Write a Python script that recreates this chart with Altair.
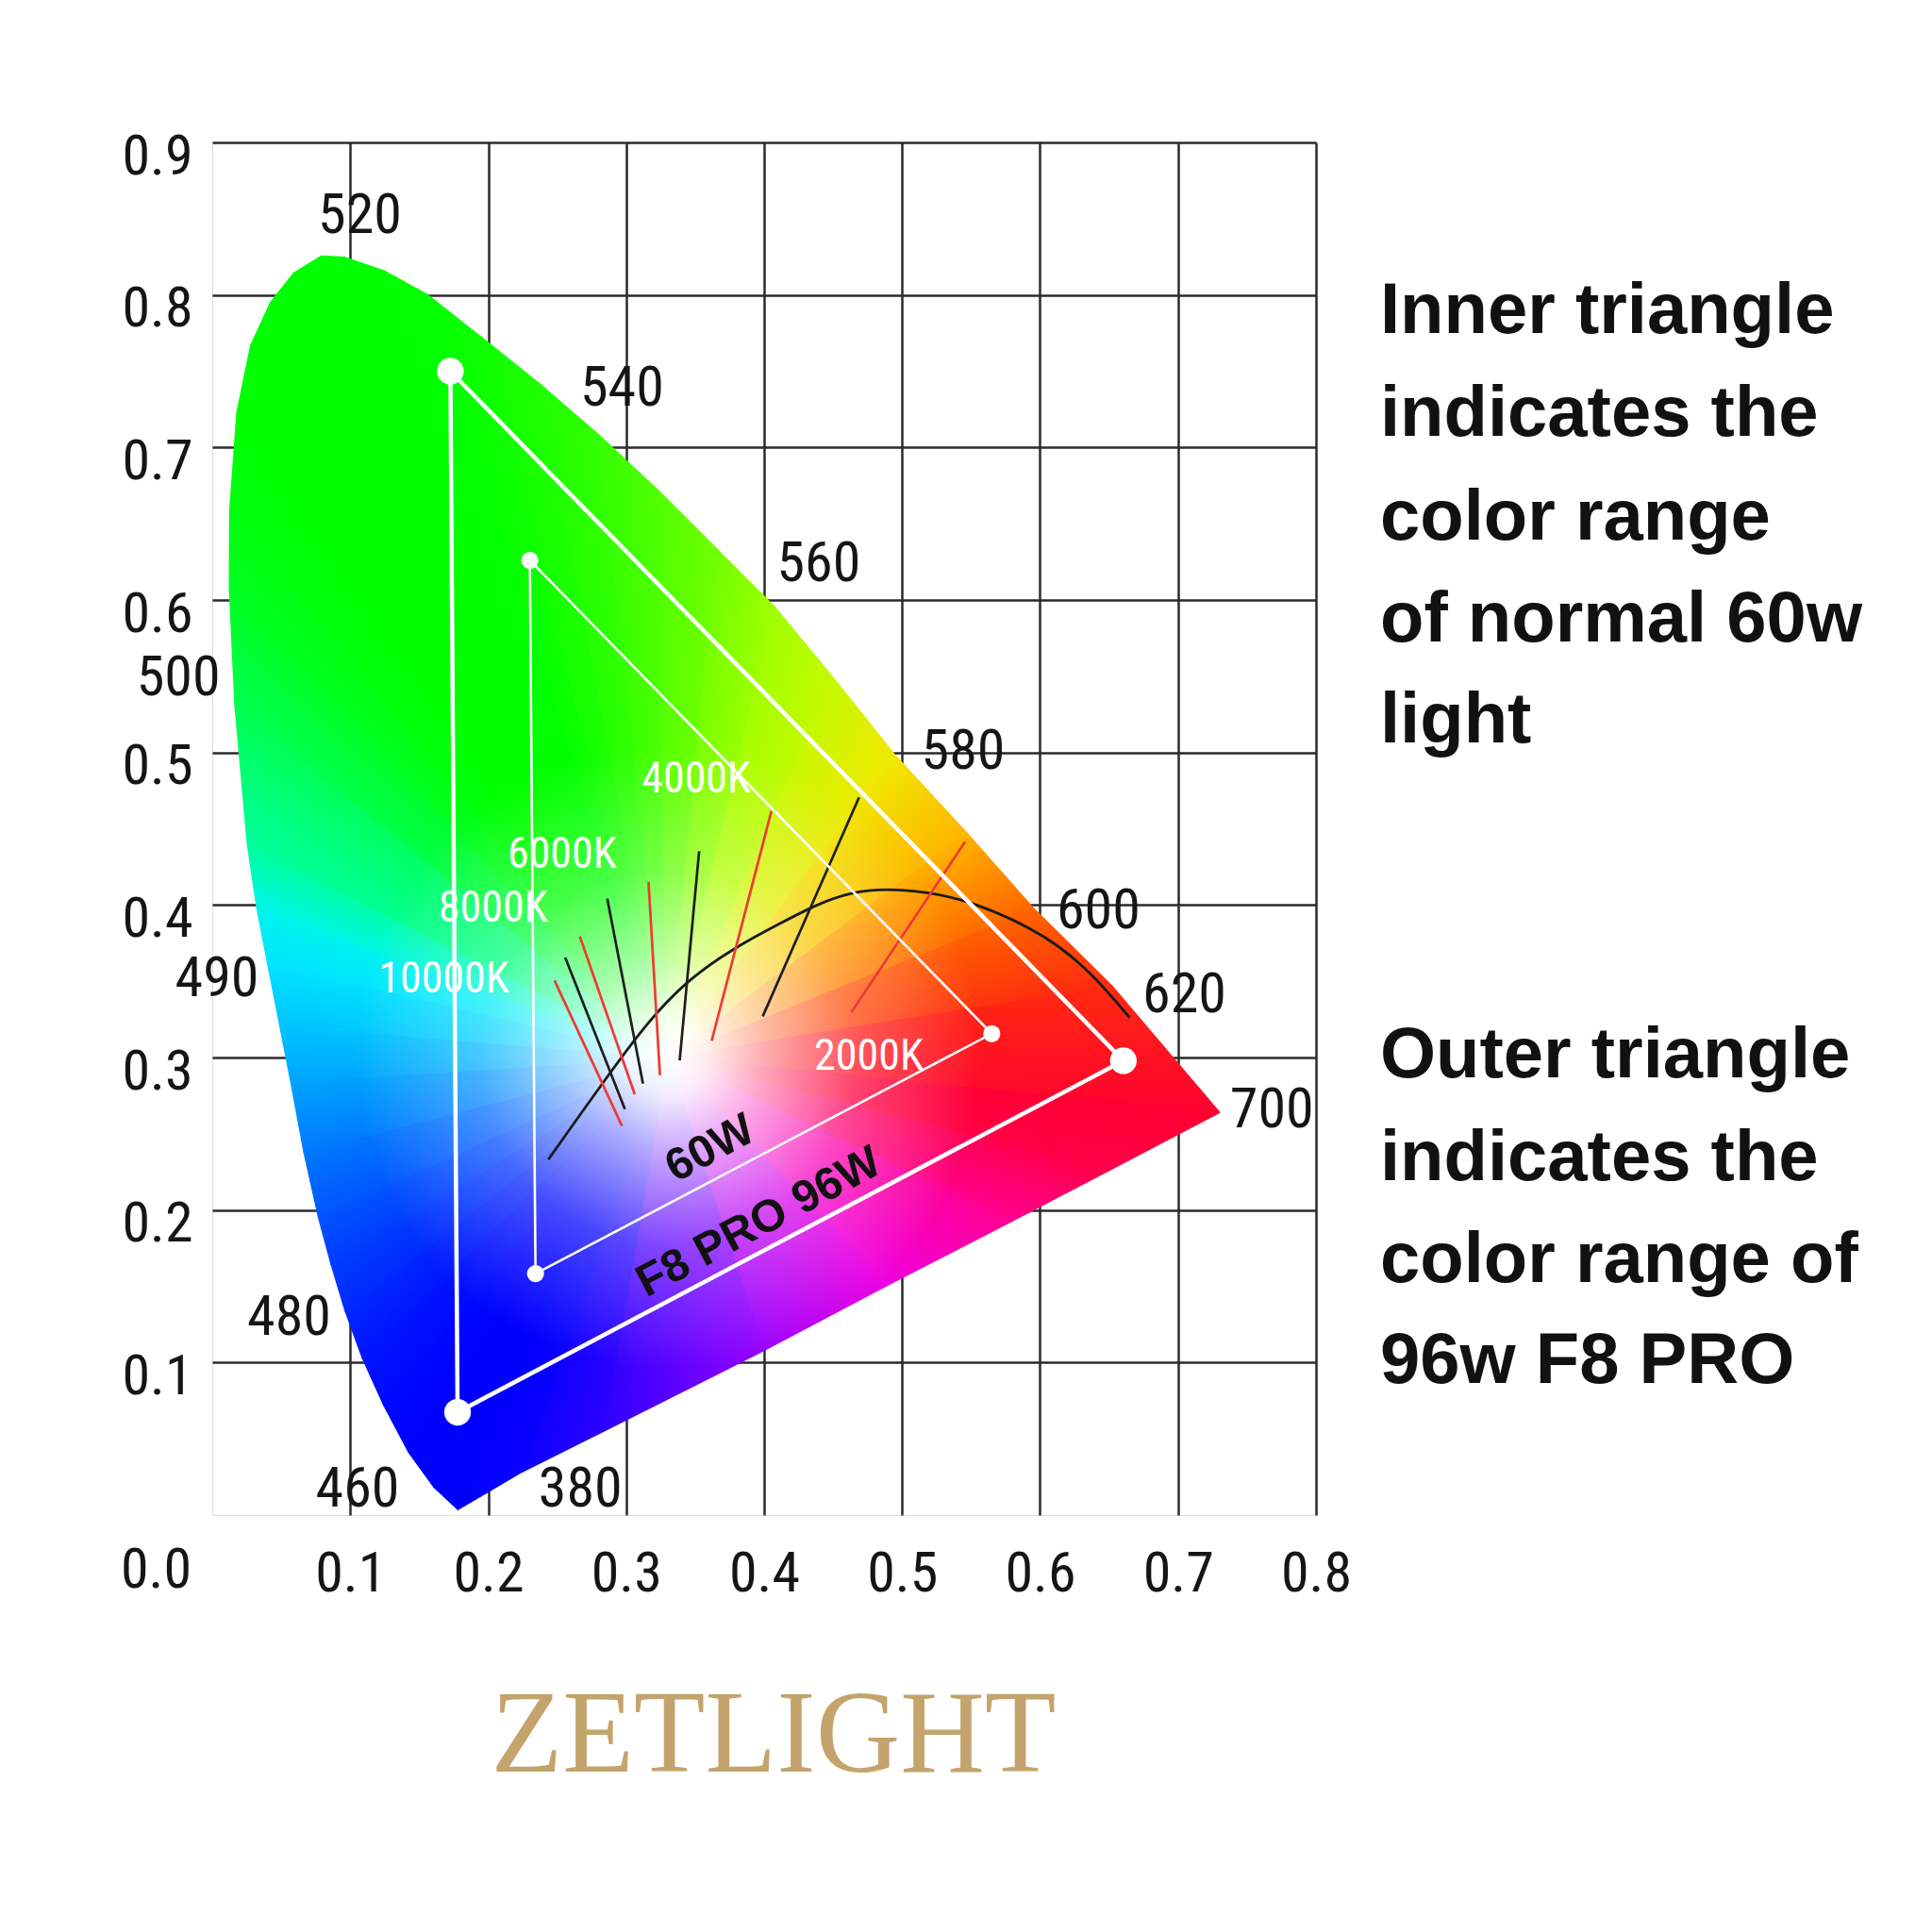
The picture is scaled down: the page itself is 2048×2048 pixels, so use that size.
import altair as alt
import pandas as pd

# chart geometry (plot area in px)
PLOT_W = 1170
PLOT_H = 1455
NARROW = "Liberation Sans Narrow, Arial Narrow, Roboto Condensed, DejaVu Sans Condensed, Liberation Sans, sans-serif"
BOLD = "Liberation Sans, Arial, sans-serif"

# spectral locus, from the blue tip up the left side,
# over the top, down to 700 nm and back along the line of purples
locus_x = [0.178, 0.161, 0.1427, 0.1245, 0.109, 0.0965, 0.0862, 0.077, 0.0665, 0.057,
           0.049, 0.040, 0.0325, 0.0255, 0.0165, 0.0125, 0.0128, 0.018, 0.028, 0.0422,
           0.0592, 0.079, 0.096, 0.1245, 0.1556, 0.1953, 0.2378, 0.2803, 0.3229, 0.3654,
           0.4079, 0.450, 0.495, 0.547, 0.596, 0.652, 0.730, 0.650, 0.580, 0.490,
           0.400, 0.284, 0.2248]
locus_y = [0.0037, 0.0181, 0.0408, 0.0718, 0.1027, 0.1336, 0.1645, 0.1955, 0.238, 0.2841,
           0.3212, 0.3625, 0.3975, 0.440, 0.531, 0.608, 0.6594, 0.7233, 0.767, 0.795,
           0.8144, 0.8254, 0.8246, 0.8157, 0.8003, 0.772, 0.7413, 0.708, 0.672, 0.6336,
           0.5951, 0.549, 0.498, 0.447, 0.397, 0.347, 0.264, 0.226, 0.193, 0.151,
           0.108, 0.0552, 0.0285]
# colour seen at each locus point
edge_colors = ["#0000ff", "#0000ff", "#0000ff", "#0008ff", "#0014ff", "#0028ff", "#003cff", "#0054ff", "#0078ff", "#00a4ff",
               "#00c4ff", "#00e4ff", "#00f4ec", "#00ff9c", "#00ff50", "#00ff20", "#00ff10", "#00ff00", "#00ff00", "#00ff00",
               "#00ff00", "#00ff00", "#00ff00", "#00ff00", "#04ff00", "#10ff00", "#20ff00", "#34ff00", "#50ff00", "#70ff00",
               "#a0ff00", "#c4fa00", "#f0e800", "#ffb400", "#ff6400", "#ff2a10", "#ff0030", "#ff0048", "#ff0090", "#f000e0",
               "#9800ff", "#2c00ff", "#0c00ff"]
white_x, white_y = 0.33, 0.30

# Planckian locus
planck_x = [0.2436, 0.2893, 0.3443, 0.4114, 0.4625, 0.510, 0.554, 0.603, 0.639, 0.665]
planck_y = [0.2331, 0.2910, 0.3491, 0.3878, 0.4074, 0.409, 0.400, 0.379, 0.3526, 0.326]

# isotemperature lines
iso_x1 = [0.2481, 0.2558, 0.2664, 0.2863, 0.3162, 0.3529, 0.4053, 0.4688, 0.5457]
iso_y1 = [0.3505, 0.3656, 0.3795, 0.4043, 0.4153, 0.4352, 0.4617, 0.4706, 0.4415]
iso_x2 = [0.2970, 0.2991, 0.3062, 0.3122, 0.3245, 0.3388, 0.3620, 0.3990, 0.4633]
iso_y2 = [0.2551, 0.2662, 0.2759, 0.2828, 0.2883, 0.2980, 0.3110, 0.3270, 0.3297]
iso_kind = ["red", "black", "red", "black", "red", "black", "red", "black", "red"]

# gamut triangles
outer_x = [0.1726, 0.6604, 0.1778]
outer_y = [0.750, 0.2979, 0.0674]
inner_x = [0.2302, 0.5650, 0.2343]
inner_y = [0.626, 0.3156, 0.1583]

wl_label = ["520", "540", "560", "580", "600", "620", "700", "500", "490", "480", "460", "380"]
wl_x = [0.107, 0.297, 0.4396, 0.5443, 0.6423, 0.7046, 0.768, -0.0245, 0.0034, 0.0557, 0.1053, 0.2668]
wl_y = [0.852, 0.7385, 0.6235, 0.5006, 0.3956, 0.3408, 0.2654, 0.5486, 0.3515, 0.129, 0.0169, 0.0169]

temp_label = ["4000K", "6000K", "8000K", "10000K", "2000K"]
temp_x = [0.3509, 0.2536, 0.2036, 0.1679, 0.4759]
temp_y = [0.4823, 0.4330, 0.3975, 0.3514, 0.3005]

tag_label = ["60W", "F8 PRO 96W"]
tag_x = [0.3611, 0.3964]
tag_y = [0.2399, 0.1915]

inner_note = ["Inner triangle", "indicates the", "color range", "of normal 60w", "light"]
inner_note_y = [0.789, 0.722, 0.654, 0.587, 0.521]
outer_note = ["Outer triangle", "indicates the", "color range of", "96w F8 PRO"]
outer_note_y = [0.301, 0.234, 0.167, 0.101]

x_ticks = [0.1, 0.2, 0.3, 0.4, 0.5, 0.6, 0.7, 0.8]
y_ticks = [0.1, 0.2, 0.3, 0.4, 0.5, 0.6, 0.7, 0.8, 0.9]

xs = alt.Scale(domain=[0, 0.8], nice=False, zero=False)
ys = alt.Scale(domain=[0, 0.9], nice=False, zero=False)
x_axis = alt.Axis(values=x_ticks, title=None, grid=True, ticks=False, tickSize=0, domain=False,
                  labelFont=NARROW, labelFontSize=60, labelColor="#151515", labelPadding=62,
                  labelBaseline="middle", labelFlush=False, gridColor="#2b2b2b", gridWidth=2.5,
                  format=".1f")
y_axis = alt.Axis(values=y_ticks, title=None, grid=True, ticks=False, tickSize=0, domain=False,
                  labelFont=NARROW, labelFontSize=60, labelColor="#151515", labelPadding=21,
                  labelBaseline="middle", labelOffset=15, labelFlush=False, gridColor="#2b2b2b",
                  gridWidth=2.5, format=".1f")


def X(field):
    return alt.X(field, type="quantitative", scale=xs, axis=x_axis)


def Y(field):
    return alt.Y(field, type="quantitative", scale=ys, axis=y_axis)


SX = PLOT_W / 0.8
SY = PLOT_H / 0.9


def fan_gradient(a, b, c, c0, c1):
    # linear gradient over triangle a-b-c whose bands run parallel to the ray
    # from a to the middle of b-c (pixel space, y down, bbox units as in SVG)
    pts = [(p[0] * SX, -p[1] * SY) for p in (a, b, c)]
    (ax, ay), (bx, by), (cx, cy) = pts
    x0 = min(p[0] for p in pts)
    y0 = min(p[1] for p in pts)
    bw = max(p[0] for p in pts) - x0
    bh = max(p[1] for p in pts) - y0
    mx, my = (bx + cx) / 2, (by + cy) / 2
    nx, ny = -(my - ay), (mx - ax)
    k = (nx * (cx - bx) + ny * (cy - by)) / (nx * nx * bw * bw + ny * ny * bh * bh)
    u1, w1 = (bx - x0) / bw, (by - y0) / bh
    return alt.Gradient(
        gradient="linear",
        stops=[alt.GradientStop(offset=0, color=c0), alt.GradientStop(offset=1, color=c1)],
        x1=u1, y1=w1, x2=u1 + k * nx * bw, y2=w1 + k * ny * bh,
    )


layers = []

# colour fill: a fan of triangles from the white point, shaded along the locus
n = len(locus_x)
for i in range(n):
    j = (i + 1) % n
    grad = fan_gradient((white_x, white_y), (locus_x[i], locus_y[i]), (locus_x[j], locus_y[j]),
                        edge_colors[i], edge_colors[j])
    tri = pd.DataFrame({
        "x": [white_x, locus_x[i], locus_x[j], white_x],
        "y": [white_y, locus_y[i], locus_y[j], white_y],
        "k": range(4),
    })
    layers.append(
        alt.Chart(tri).mark_line(fill=grad, stroke=grad, strokeWidth=1.6, strokeJoin="round")
        .encode(x=X("x"), y=Y("y"), order="k:Q")
    )

# white glow in the middle
bx0, bx1, by0, by1 = min(locus_x), max(locus_x), min(locus_y), max(locus_y)
pw = (bx1 - bx0) * SX
ph = (by1 - by0) * SY
side = max(pw, ph)
gcx = ((white_x - bx0) / (bx1 - bx0) * pw + (side - pw) / 2) / side
gcy = ((by1 - white_y) / (by1 - by0) * ph + (side - ph) / 2) / side
glow = alt.Gradient(
    gradient="radial", x1=gcx, y1=gcy, r1=0, x2=gcx, y2=gcy, r2=0.25,
    stops=[alt.GradientStop(offset=0, color="rgba(255,255,255,1)"),
           alt.GradientStop(offset=0.12, color="rgba(255,255,255,0.93)"),
           alt.GradientStop(offset=0.3, color="rgba(255,255,255,0.66)"),
           alt.GradientStop(offset=0.6, color="rgba(255,255,255,0.27)"),
           alt.GradientStop(offset=1, color="rgba(255,255,255,0)")],
)
locus = pd.DataFrame({"x": locus_x, "y": locus_y, "k": range(n)})
layers.append(
    alt.Chart(locus).mark_line(fill=glow, strokeOpacity=0)
    .encode(x=X("x"), y=Y("y"), order="k:Q")
)

planck = pd.DataFrame({"x": planck_x, "y": planck_y})
layers.append(
    alt.Chart(planck).mark_line(color="#1a1a1a", strokeWidth=2.8, interpolate="natural")
    .encode(x=X("x"), y=Y("y"))
)

iso = pd.DataFrame({"x": iso_x1, "y": iso_y1, "x2": iso_x2, "y2": iso_y2, "kind": iso_kind})
layers.append(
    alt.Chart(iso).mark_rule(strokeWidth=2.7)
    .encode(x=X("x"), y=Y("y"), x2="x2", y2="y2",
            color=alt.Color("kind:N", scale=alt.Scale(domain=["red", "black"], range=["#ec3b35", "#1e1e1e"]),
                            legend=None))
)

for tx, ty, width, dot in [(outer_x, outer_y, 4.5, 800), (inner_x, inner_y, 2.6, 330)]:
    tri = pd.DataFrame({"x": tx + tx[:1], "y": ty + ty[:1], "k": range(4)})
    layers.append(
        alt.Chart(tri).mark_line(color="white", strokeWidth=width)
        .encode(x=X("x"), y=Y("y"), order="k:Q")
    )
    pts = pd.DataFrame({"x": tx, "y": ty})
    layers.append(
        alt.Chart(pts).mark_circle(color="white", opacity=1, size=dot)
        .encode(x=X("x"), y=Y("y"))
    )

temps = pd.DataFrame({"x": temp_x, "y": temp_y, "t": temp_label})
layers.append(
    alt.Chart(temps).mark_text(font=NARROW, fontSize=46, color="white", baseline="middle")
    .encode(x=X("x"), y=Y("y"), text="t:N")
)

tags = pd.DataFrame({"x": tag_x, "y": tag_y, "t": tag_label})
layers.append(
    alt.Chart(tags).mark_text(font=BOLD, fontSize=48, fontWeight="bold", color="#111111",
                              baseline="middle", angle=332)
    .encode(x=X("x"), y=Y("y"), text="t:N")
)

wls = pd.DataFrame({"x": wl_x, "y": wl_y, "t": wl_label})
layers.append(
    alt.Chart(wls).mark_text(font=NARROW, fontSize=60, color="#151515", baseline="middle")
    .encode(x=X("x"), y=Y("y"), text="t:N")
)

origin = pd.DataFrame({"x": [-0.015], "y": [-0.0365], "t": ["0.0"]})
layers.append(
    alt.Chart(origin).mark_text(font=NARROW, fontSize=60, color="#151515", baseline="middle", align="right")
    .encode(x=X("x"), y=Y("y"), text="t:N")
)

notes = pd.DataFrame({
    "x": [0.8465] * (len(inner_note) + len(outer_note)),
    "y": inner_note_y + outer_note_y,
    "t": inner_note + outer_note,
})
layers.append(
    alt.Chart(notes).mark_text(font=BOLD, fontSize=76, fontWeight="bold", color="#111111",
                               baseline="middle", align="left")
    .encode(x=X("x"), y=Y("y"), text="t:N")
)

brand = pd.DataFrame({"x": [0.4068], "y": [-0.1454], "t": ["ZETLIGHT"]})
layers.append(
    alt.Chart(brand).mark_text(font="Liberation Serif, Times New Roman, serif", fontSize=124,
                               color="#c4a46c", baseline="middle")
    .encode(x=X("x"), y=Y("y"), text="t:N")
)

chart = (
    alt.layer(*layers)
    .properties(width=PLOT_W, height=PLOT_H, autosize="none",
                padding={"left": 217, "top": 143, "right": 630, "bottom": 400})
    .configure_view(stroke="#2b2b2b", strokeWidth=3)
    .configure(background="white")
)

chart.save("out.html", embed_options={"renderer": "svg", "actions": False})
